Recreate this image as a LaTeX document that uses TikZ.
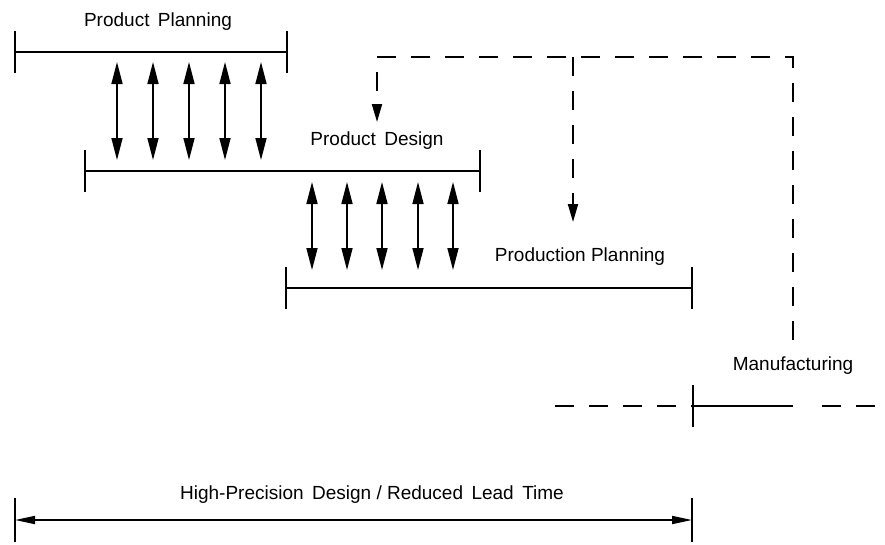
\documentclass[tikz,border=0pt]{standalone}
\usepackage{fontspec}
\setmainfont{Liberation Sans}
\usetikzlibrary{arrows.meta}

\begin{document}
\begin{tikzpicture}[
    x=1pt, y=-1pt,
    every node/.style={font=\fontsize{19}{22}\selectfont, inner sep=0pt},
    bar/.style={line width=1.8pt},
    tick/.style={line width=2pt},
    link/.style={
        {Triangle[length=22pt,width=11pt]}-{Triangle[length=22pt,width=11pt]},
        line width=1.6pt
    },
    flow/.style={dash pattern=on 19pt off 15pt, line width=2pt},
    feed/.style={flow, -{Triangle[length=18pt,width=10pt]}},
    span/.style={
        {Triangle[length=20pt,width=8pt]}-{Triangle[length=20pt,width=8pt]},
        line width=1.8pt
    }
]
\useasboundingbox (0,0) rectangle (885,544);

% phase bars
\coordinate (pp-l) at (15,52);
\coordinate (pp-r) at (287,52);
\coordinate (pd-l) at (85,171);
\coordinate (pd-r) at (480,171);
\coordinate (pr-l) at (286,288);
\coordinate (pr-r) at (692,288);
\coordinate (mf-l) at (693,406);
\coordinate (mf-r) at (793,406);

\draw[bar] (pp-l) -- (pp-r);
\draw[bar] (pd-l) -- (pd-r);
\draw[bar] (pr-l) -- (pr-r);
\draw[bar] (mf-l) -- (mf-r);

\foreach \c in {pp-l,pp-r,pd-l,pd-r,pr-l,pr-r,mf-l}
    \draw[tick] ([yshift=21pt]\c) -- ([yshift=-21pt]\c);

\node (pp) at (158,22) {Product\, Planning};
\node (pd) at (377,141) {Product\, Design};
\node (pr) at (580,257) {Production Planning};
\node (mf) at (793,366) {Manufacturing};

% exchange between phases
\foreach \x in {117,153,189,225,261}
    \draw[link] (\x,62) -- (\x,160);
\foreach \x in {312,347,382,418,453}
    \draw[link] (\x,182) -- (\x,270);

% feedback from manufacturing
\coordinate (fb-end) at (793,340);
\coordinate (fb-top) at (793,57);
\coordinate (fb-split) at (573,57);
\coordinate (fb-corner) at (377,57);
\coordinate (fb-pd) at (377,122);
\coordinate (fb-pr) at (573,222);

\draw[feed] (fb-end) -- (fb-top) -- (fb-corner) -- (fb-pd);
\draw[feed] (fb-split) -- (fb-pr);

\coordinate (mf-in) at (555,406);
\coordinate (mf-out) at (822,406);
\coordinate (mf-edge) at (885,406);
\draw[flow] (mf-in) -- (mf-l);
\draw[flow] (mf-out) -- (mf-edge);

% lead time
\coordinate (lt-l) at (15,520);
\coordinate (lt-r) at (692,520);
\draw[span] (lt-l) -- (lt-r);
\draw[tick] ([yshift=22pt]lt-l) -- ([yshift=-22pt]lt-l);
\draw[tick] ([yshift=22pt]lt-r) -- ([yshift=-22pt]lt-r);
\node (lt) at (372,495) {High-Precision\, Design / Reduced\, Lead\, Time};

\end{tikzpicture}
\end{document}
